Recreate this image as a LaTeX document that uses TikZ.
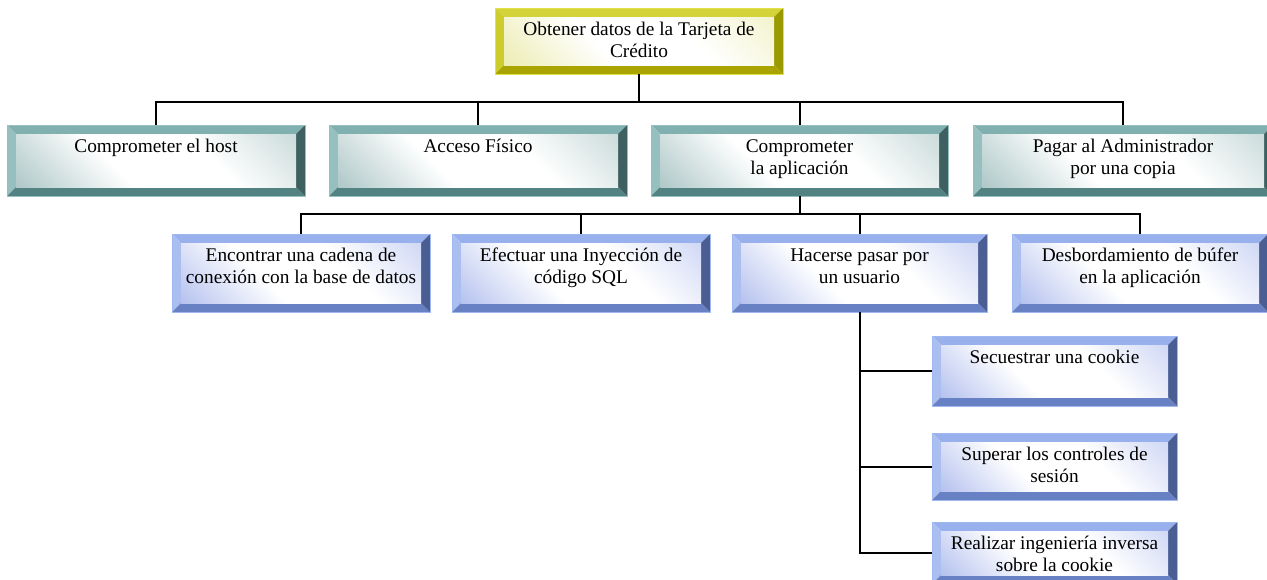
\documentclass[tikz,border=0pt]{standalone}
\usepackage{fontspec}
\setmainfont{Liberation Serif}
\usetikzlibrary{fit}
% yellow theme
\definecolor{Ytop}{RGB}{212,212,58}
\definecolor{Yleft}{RGB}{204,204,44}
\definecolor{Ybottom}{RGB}{170,164,0}
\definecolor{Yright}{RGB}{154,154,0}
\definecolor{Yedge}{RGB}{226,226,70}
\definecolor{Yc}{RGB}{222,222,120}
% teal theme
\definecolor{Ttop}{RGB}{128,176,176}
\definecolor{Tleft}{RGB}{150,192,192}
\definecolor{Tbottom}{RGB}{82,130,130}
\definecolor{Tright}{RGB}{62,96,96}
\definecolor{Tedge}{RGB}{150,192,192}
\definecolor{Tc}{RGB}{112,156,156}
% blue theme
\definecolor{Btop}{RGB}{152,176,236}
\definecolor{Bleft}{RGB}{170,190,240}
\definecolor{Bbottom}{RGB}{104,128,196}
\definecolor{Bright}{RGB}{74,94,148}
\definecolor{Bedge}{RGB}{160,184,240}
\definecolor{Bc}{RGB}{124,146,226}
\colorlet{Yc1}{Yc!55!white}\colorlet{Yc2}{Yc!40!white}
\colorlet{Tc1}{Tc!55!white}\colorlet{Tc2}{Tc!40!white}
\colorlet{Bc1}{Bc!55!white}\colorlet{Bc2}{Bc!40!white}
\pgfdeclarehorizontalshading{Yshade}{100bp}{color(0bp)=(Yc); color(15bp)=(Yc1); color(40bp)=(white); color(62bp)=(white); color(88bp)=(Yc2); color(100bp)=(Yc1)}
\pgfdeclarehorizontalshading{Tshade}{100bp}{color(0bp)=(Tc); color(15bp)=(Tc1); color(40bp)=(white); color(62bp)=(white); color(88bp)=(Tc2); color(100bp)=(Tc1)}
\pgfdeclarehorizontalshading{Bshade}{100bp}{color(0bp)=(Bc); color(15bp)=(Bc1); color(40bp)=(white); color(62bp)=(white); color(88bp)=(Bc2); color(100bp)=(Bc1)}
\tikzset{
  txt/.style={inner sep=0pt, outer sep=0pt, align=center, anchor=north,
    font=\fontsize{14.5}{16.5}\selectfont},
  conn/.style={draw=black, line width=1.5pt}
}
\newcommand\bevbox[7]{%
  \coordinate (#1-a) at (#2,#3);
  \coordinate (#1-b) at (#4,#5);
  \node[fit=(#1-a)(#1-b), inner sep=0pt, outer sep=0pt] (#1) {};
  \fill[#6top] (#1.north west) -- (#1.north east) -- ([shift={(-9,9)}]#1.north east) -- ([shift={(9,9)}]#1.north west) -- cycle;
  \fill[#6left] (#1.north west) -- ([shift={(9,9)}]#1.north west) -- ([shift={(9,-9)}]#1.south west) -- (#1.south west) -- cycle;
  \fill[#6bottom] (#1.south west) -- ([shift={(9,-9)}]#1.south west) -- ([shift={(-9,-9)}]#1.south east) -- (#1.south east) -- cycle;
  \fill[#6right] (#1.north east) -- (#1.south east) -- ([shift={(-9,-9)}]#1.south east) -- ([shift={(-9,9)}]#1.north east) -- cycle;
  \shade[shading=#6shade, shading angle=45]
    ([shift={(9,9)}]#1.north west) rectangle ([shift={(-9,-9)}]#1.south east);
  \draw[#6edge, line width=0.6pt] (#1.north west) rectangle (#1.south east);
  \node[txt] (#1-t) at ([yshift=-8.9pt]#1.north) {\strut #7};
}
\begin{document}
\begin{tikzpicture}[x=0.75pt, y=-0.75pt]
\useasboundingbox (0,0) rectangle (1267,579);
\clip (0,0) rectangle (1267,579);
\fill[white] (0,0) rectangle (1267,579);

\coordinate (bus1) at (0,102);
\coordinate (bus2) at (0,214);

% boxes
\bevbox{root}{495}{8}{783}{74}{Y}{Obtener datos de la Tarjeta de\\Crédito}
\bevbox{h}{7}{125}{305}{196}{T}{Comprometer el host}
\bevbox{f}{329}{125}{627}{196}{T}{Acceso Físico}
\bevbox{app}{651}{125}{948}{196}{T}{Comprometer\\la aplicación}
\bevbox{pay}{973}{125}{1273}{196}{T}{Pagar al Administrador\\por una copia}

\bevbox{cad}{172}{234}{430}{312}{B}{Encontrar una cadena de\\conexión con la base de datos}
\bevbox{sql}{452}{234}{710}{312}{B}{Efectuar una Inyección de\\código SQL}
\bevbox{usr}{732}{234}{987}{312}{B}{Hacerse pasar por\\un usuario}
\bevbox{buf}{1012}{234}{1268}{312}{B}{Desbordamiento de búfer\\en la aplicación}

\bevbox{ck}{932}{336}{1177}{406}{B}{Secuestrar una cookie}
\bevbox{ses}{932}{433}{1177}{500}{B}{Superar los controles de\\sesión}
\bevbox{rev}{932}{522}{1177}{584}{B}{Realizar ingeniería inversa\\sobre la cookie}

% connectors level 1
\draw[conn] (root.south) -- (root.south |- bus1);
\draw[conn] (h.north) -- (h.north |- bus1) -- (pay.north |- bus1) -- (pay.north);
\draw[conn] (f.north) -- (f.north |- bus1);
\draw[conn] (app.north) -- (app.north |- bus1);

% connectors level 2
\draw[conn] (app.south) -- (app.south |- bus2);
\draw[conn] (cad.north) -- (cad.north |- bus2) -- (buf.north |- bus2) -- (buf.north);
\draw[conn] (sql.north) -- (sql.north |- bus2);
\draw[conn] (usr.north) -- (usr.north |- bus2);

% connectors level 3
\draw[conn] (usr.south) |- (rev.west);
\draw[conn] (usr.south |- ck.west) -- (ck.west);
\draw[conn] (usr.south |- ses.west) -- (ses.west);
\end{tikzpicture}
\end{document}
